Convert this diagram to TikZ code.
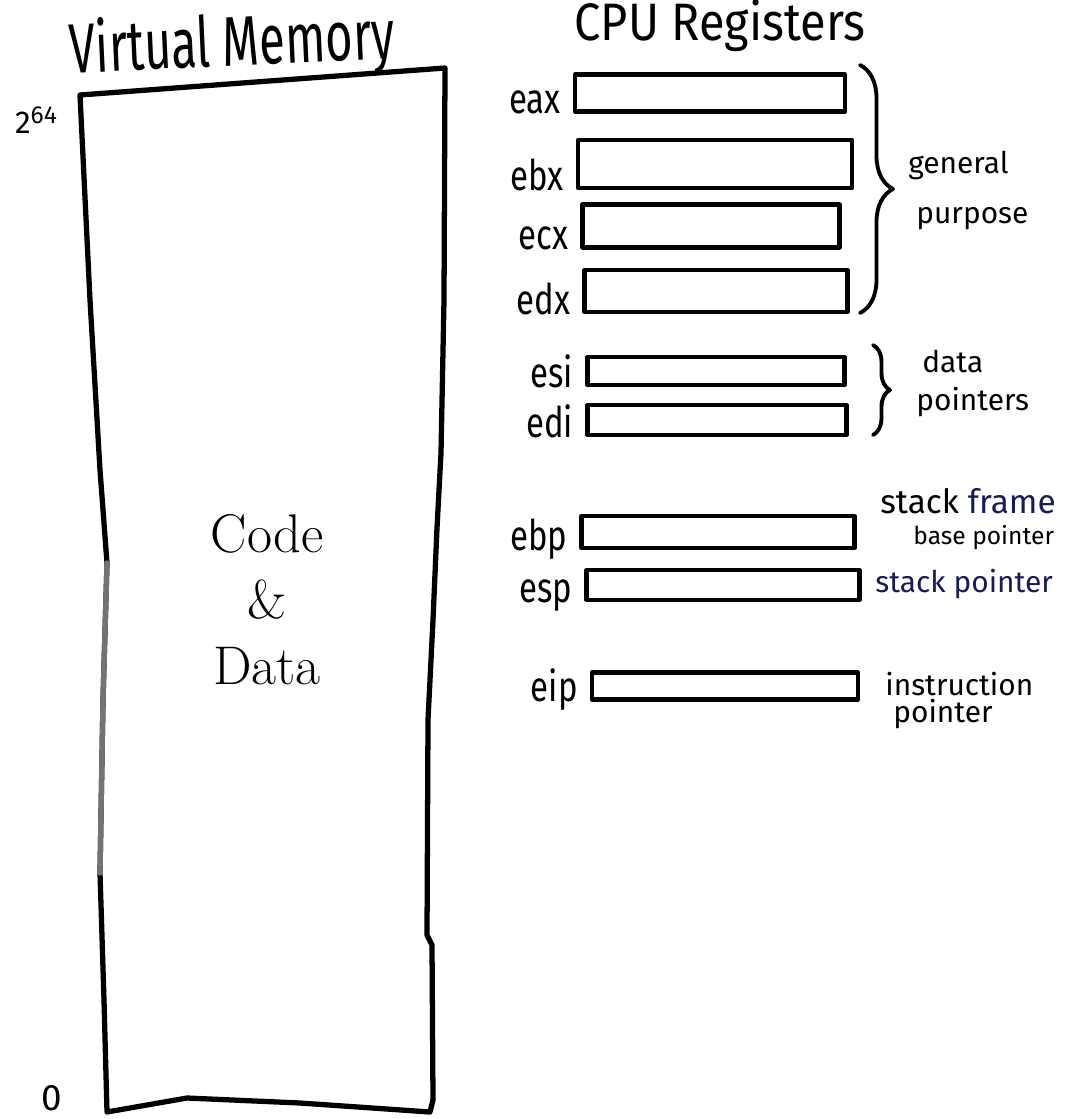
\documentclass[tikz,border=0pt]{standalone}
\usepackage{fontspec}
\newfontfamily\handfont{Fira Sans}
\usetikzlibrary{positioning,decorations.pathreplacing}

\definecolor{inkblue}{RGB}{22,28,88}

\tikzset{
    regbox/.style={draw, line width=2.3pt, inner sep=0pt},
    regname/.style={font=\handfont\fontsize{24}{24}\selectfont, inner sep=0pt},
    side/.style={font=\handfont\fontsize{17}{17}\selectfont, inner sep=0pt, anchor=base west},
    curly/.style={decorate, line width=2.2pt, decoration={brace, amplitude=#1}},
}

\begin{document}
\begin{tikzpicture}[x=0.02cm, y=-0.02cm, line join=round, line cap=round]

    \useasboundingbox (0,0) rectangle (1071,1119);

    % Titles
    \node[font=\handfont\fontsize{40}{40}\selectfont, anchor=base, rotate=2.6, inner sep=0pt]
        (vmtitle) at (233,66) {\scalebox{0.67}[1]{Virtual Memory}};
    \node[font=\handfont\fontsize{30}{30}\selectfont, anchor=base, inner sep=0pt]
        (cputitle) at (720,40) {\scalebox{0.89}[1]{CPU Registers}};

    % The memory box, drawn by hand
    \draw[line width=3pt]
        (80,95) -- (445,68) -- (444,300) -- (441,453) -- (437,528) -- (433,620)
        -- (428,720) -- (427,935) -- (432,945) -- (433,1100) -- (430,1112)
        -- (300,1103) -- (187,1098) -- (107,1112) -- (104,1000) -- (100,873)
        -- (103,700) -- (107,563) -- (100,470) -- (90,300) -- cycle;
    \draw[line width=3pt, black!55] (107,563) -- (103,700) -- (100,873);

    \node[font=\handfont\fontsize{18}{18}\selectfont, inner sep=0pt, anchor=base]
        (topaddr) at (36,133) {2\raisebox{0.55ex}{\fontsize{14}{14}\selectfont 64}};
    \node[font=\handfont\fontsize{21}{21}\selectfont, inner sep=0pt, anchor=base]
        (botaddr) at (52,1110) {0};

    \node[font=\fontsize{31}{37.5}\selectfont, align=center]
        (codedata) at (267,600) {Code\\\&\\Data};

    % Registers: name/centre x/centre y/width/height
    \foreach \r/\x/\y/\w/\h in {eax/710/93/270/37, ebx/715/164/274/48,
                                ecx/711/226/257/43, edx/716/291/263/42,
                                esi/716/371/257/28, edi/717/420/259/30,
                                ebp/718/532/273/32, esp/723/585/273/30,
                                eip/725/686/266/27} {
        \node[regbox, minimum width=\w*0.02cm, minimum height=\h*0.02cm] (\r) at (\x,\y) {};
        \node[regname, left=0.24cm of \r.south west, anchor=base east] (\r-name)
            {\scalebox{0.78}[1]{\r}};
    }

    % Braces
    \coordinate (gp-top) at (860,65);
    \coordinate (gp-bot) at (860,313);
    \draw[curly=0.66cm] (gp-top) -- (gp-bot);
    \coordinate (dp-top) at (873,345);
    \coordinate (dp-bot) at (873,435);
    \draw[curly=0.34cm] (dp-top) -- (dp-bot);

    % Side notes
    \node[side] (general) at (908,173) {general};
    \node[side] (purpose) at (916,223) {purpose};
    \node[side] (data) at (922,372) {data};
    \node[side] (pointers) at (916,410) {pointers};
    \node[side, font=\handfont\fontsize{19}{19}\selectfont] (stackframe) at (880,513)
        {stack \textcolor{inkblue}{frame}};
    \node[side, font=\handfont\fontsize{14}{14}\selectfont] (basepointer) at (913,544) {base pointer};
    \node[side, inkblue] (stackpointer) at (875,592) {stack pointer};
    \node[side] (instruction) at (885,695) {instruction};
    \node[side] (ippointer) at (893,722) {pointer};

\end{tikzpicture}
\end{document}
